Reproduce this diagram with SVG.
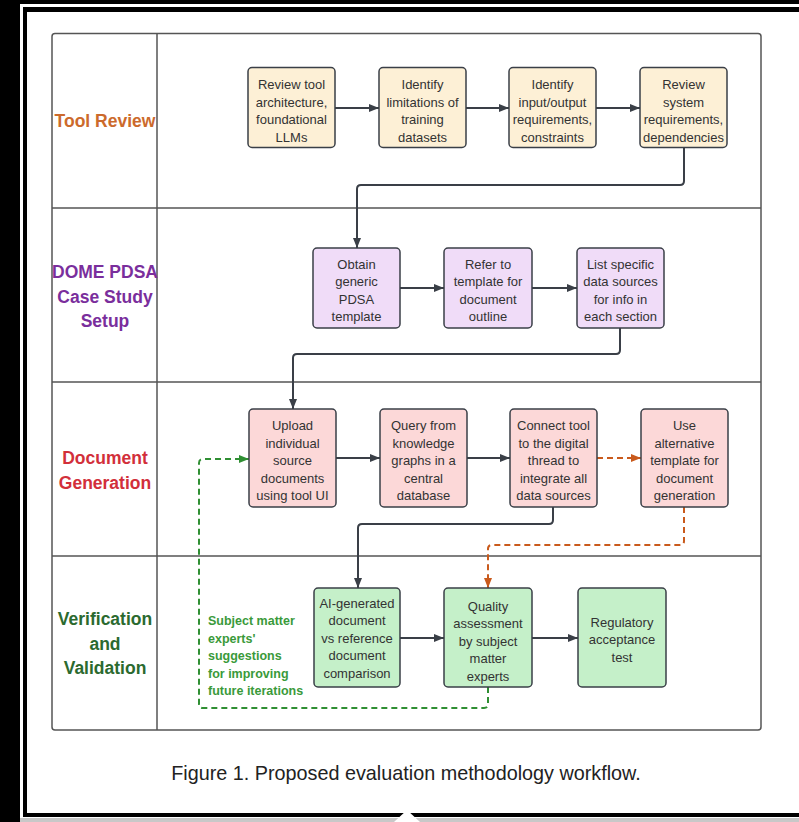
<svg xmlns="http://www.w3.org/2000/svg" width="799" height="822" viewBox="0 0 799 822">
<style>
.node rect{stroke:#3a3f47;stroke-width:1.5}
.tr rect{fill:#fdf0d6}
.dp rect{fill:#f0dcf8}
.dg rect{fill:#fcd8d8}
.vv rect{fill:#c5f0c9}
.node text{font-family:"Liberation Sans",Arial,sans-serif;font-size:13px;fill:#333;text-anchor:middle}
.lane{font-family:"Liberation Sans",Arial,sans-serif;font-size:17.5px;font-weight:bold;text-anchor:middle}
.c{fill:none;stroke:#3a3f47;stroke-width:2}
.co{fill:none;stroke:#c95a1c;stroke-width:2;stroke-dasharray:6 4}
.cg{fill:none;stroke:#2f8f33;stroke-width:2;stroke-dasharray:6 4}
.grid{fill:none;stroke:#555;stroke-width:1.5}
</style>
<defs>
<marker id="ad" markerUnits="userSpaceOnUse" markerWidth="10" markerHeight="10" refX="10" refY="5" orient="auto"><path d="M0,1 L10,5 L0,9 z" fill="#3a3f47"/></marker>
<marker id="ao" markerUnits="userSpaceOnUse" markerWidth="10" markerHeight="10" refX="10" refY="5" orient="auto"><path d="M0,1 L10,5 L0,9 z" fill="#c95a1c"/></marker>
<marker id="ag" markerUnits="userSpaceOnUse" markerWidth="10" markerHeight="10" refX="10" refY="5" orient="auto"><path d="M0,1 L10,5 L0,9 z" fill="#2f8f33"/></marker>
</defs>
<!-- frame -->
<rect x="0" y="0" width="799" height="822" fill="#000"/>
<rect x="20" y="4" width="779" height="818" fill="#fff"/>
<rect x="20" y="818" width="779" height="4" fill="#c8c8c8"/>
<rect x="23" y="7" width="776" height="810" fill="#000"/>
<rect x="27" y="12" width="772" height="801" fill="#fff"/>
<polygon points="394,822 407,810 420,822" fill="#fff"/>

<!-- lanes -->
<g id="lanes">
<rect class="grid" x="52" y="33.5" width="709" height="696.5" rx="3"/>
<line class="grid" x1="157" y1="33.5" x2="157" y2="730"/>
<line class="grid" x1="52" y1="208" x2="761" y2="208"/>
<line class="grid" x1="52" y1="382" x2="761" y2="382"/>
<line class="grid" x1="52" y1="556" x2="761" y2="556"/>
<text class="lane" x="105" y="127" fill="#cc6a2c">Tool Review</text>
<text class="lane" x="105" y="278" fill="#7a2e9c">DOME PDSA<tspan x="105" dy="24.5">Case Study</tspan><tspan x="105" dy="24.5">Setup</tspan></text>
<text class="lane" x="105" y="464" fill="#d22f3a">Document<tspan x="105" dy="24.5">Generation</tspan></text>
<text class="lane" x="105" y="625" fill="#2b6a2f">Verification<tspan x="105" dy="24.5">and</tspan><tspan x="105" dy="24.5">Validation</tspan></text>
</g>

<!-- connectors -->
<g id="connectors">
<line class="c" x1="335" y1="108" x2="379" y2="108" marker-end="url(#ad)"/>
<line class="c" x1="466" y1="108" x2="509" y2="108" marker-end="url(#ad)"/>
<line class="c" x1="596" y1="108" x2="640" y2="108" marker-end="url(#ad)"/>
<path class="c" d="M684,148 V181 Q684,185 680,185 H361 Q357,185 357,189 V248" marker-end="url(#ad)"/>
<line class="c" x1="400" y1="288" x2="444" y2="288" marker-end="url(#ad)"/>
<line class="c" x1="532" y1="288" x2="577" y2="288" marker-end="url(#ad)"/>
<path class="c" d="M620,328 V350 Q620,354 616,354 H297 Q293,354 293,358 V409" marker-end="url(#ad)"/>
<line class="c" x1="336" y1="458" x2="380" y2="458" marker-end="url(#ad)"/>
<line class="c" x1="467" y1="458" x2="510" y2="458" marker-end="url(#ad)"/>
<line class="co" x1="597" y1="458" x2="641" y2="458" marker-end="url(#ao)"/>
<path class="c" d="M553,507 V520 Q553,524 549,524 H362 Q358,524 358,528 V588" marker-end="url(#ad)"/>
<path class="co" d="M684,507 V541 Q684,545 680,545 H492 Q488,545 488,549 V588" marker-end="url(#ao)"/>
<line class="c" x1="400" y1="638" x2="444" y2="638" marker-end="url(#ad)"/>
<line class="c" x1="532" y1="638" x2="578" y2="638" marker-end="url(#ad)"/>
<path class="cg" d="M488,687 V704 Q488,708 484,708 H203 Q199,708 199,704 V463 Q199,459 203,459 H249" marker-end="url(#ag)"/>
<text x="208" y="625" font-family="Liberation Sans,Arial,sans-serif" font-size="12.5" font-weight="bold" fill="#3a9a3a">Subject matter<tspan x="208" dy="17.5">experts'</tspan><tspan x="208" dy="17.5">suggestions</tspan><tspan x="208" dy="17.5">for improving</tspan><tspan x="208" dy="17.5">future iterations</tspan></text>
</g>

<!-- row 1 -->
<g id="n1" class="node tr"><rect x="248" y="67.5" width="87" height="80" rx="4"/><text x="291.5" y="89">Review tool<tspan x="291.5" dy="17.6">architecture,</tspan><tspan x="291.5" dy="17.6">foundational</tspan><tspan x="291.5" dy="17.6">LLMs</tspan></text></g>
<g id="n2" class="node tr"><rect x="379" y="67.5" width="87" height="80" rx="4"/><text x="422.5" y="89">Identify<tspan x="422.5" dy="17.6">limitations of</tspan><tspan x="422.5" dy="17.6">training</tspan><tspan x="422.5" dy="17.6">datasets</tspan></text></g>
<g id="n3" class="node tr"><rect x="509" y="67.5" width="87" height="80" rx="4"/><text x="552.5" y="89">Identify<tspan x="552.5" dy="17.6">input/output</tspan><tspan x="552.5" dy="17.6">requirements,</tspan><tspan x="552.5" dy="17.6">constraints</tspan></text></g>
<g id="n4" class="node tr"><rect x="640" y="67.5" width="87" height="80" rx="4"/><text x="683.5" y="89">Review<tspan x="683.5" dy="17.6">system</tspan><tspan x="683.5" dy="17.6">requirements,</tspan><tspan x="683.5" dy="17.6">dependencies</tspan></text></g>

<!-- row 2 -->
<g id="n5" class="node dp"><rect x="313" y="248" width="87" height="80" rx="4"/><text x="356.5" y="268.5">Obtain<tspan x="356.5" dy="17.6">generic</tspan><tspan x="356.5" dy="17.6">PDSA</tspan><tspan x="356.5" dy="17.6">template</tspan></text></g>
<g id="n6" class="node dp"><rect x="444" y="248" width="88" height="80" rx="4"/><text x="488" y="268.5">Refer to<tspan x="488" dy="17.6">template for</tspan><tspan x="488" dy="17.6">document</tspan><tspan x="488" dy="17.6">outline</tspan></text></g>
<g id="n7" class="node dp"><rect x="577" y="248" width="87" height="80" rx="4"/><text x="620.5" y="268.5">List specific<tspan x="620.5" dy="17.6">data sources</tspan><tspan x="620.5" dy="17.6">for info in</tspan><tspan x="620.5" dy="17.6">each section</tspan></text></g>

<!-- row 3 -->
<g id="n8" class="node dg"><rect x="249" y="409" width="87" height="98" rx="4"/><text x="292.5" y="430">Upload<tspan x="292.5" dy="17.6">individual</tspan><tspan x="292.5" dy="17.6">source</tspan><tspan x="292.5" dy="17.6">documents</tspan><tspan x="292.5" dy="17.6">using tool UI</tspan></text></g>
<g id="n9" class="node dg"><rect x="380" y="409" width="87" height="98" rx="4"/><text x="423.5" y="430">Query from<tspan x="423.5" dy="17.6">knowledge</tspan><tspan x="423.5" dy="17.6">graphs in a</tspan><tspan x="423.5" dy="17.6">central</tspan><tspan x="423.5" dy="17.6">database</tspan></text></g>
<g id="n10" class="node dg"><rect x="510" y="409" width="87" height="98" rx="4"/><text x="553.5" y="430">Connect tool<tspan x="553.5" dy="17.6">to the digital</tspan><tspan x="553.5" dy="17.6">thread to</tspan><tspan x="553.5" dy="17.6">integrate all</tspan><tspan x="553.5" dy="17.6">data sources</tspan></text></g>
<g id="n11" class="node dg"><rect x="641" y="409" width="87" height="98" rx="4"/><text x="684.5" y="430">Use<tspan x="684.5" dy="17.6">alternative</tspan><tspan x="684.5" dy="17.6">template for</tspan><tspan x="684.5" dy="17.6">document</tspan><tspan x="684.5" dy="17.6">generation</tspan></text></g>

<!-- row 4 -->
<g id="n12" class="node vv"><rect x="314" y="588" width="86" height="99" rx="4"/><text x="357" y="607.5">AI-generated<tspan x="357" dy="17.6">document</tspan><tspan x="357" dy="17.6">vs reference</tspan><tspan x="357" dy="17.6">document</tspan><tspan x="357" dy="17.6">comparison</tspan></text></g>
<g id="n13" class="node vv"><rect x="444" y="588" width="88" height="99" rx="4"/><text x="488" y="610.5">Quality<tspan x="488" dy="17.6">assessment</tspan><tspan x="488" dy="17.6">by subject</tspan><tspan x="488" dy="17.6">matter</tspan><tspan x="488" dy="17.6">experts</tspan></text></g>
<g id="n14" class="node vv"><rect x="578" y="588" width="88" height="99" rx="4"/><text x="622" y="626.5">Regulatory<tspan x="622" dy="17.6">acceptance</tspan><tspan x="622" dy="17.6">test</tspan></text></g>

<text x="406" y="780" font-family="Liberation Sans,Arial,sans-serif" font-size="19.8" fill="#222" text-anchor="middle">Figure 1. Proposed evaluation methodology workflow.</text>
</svg>
